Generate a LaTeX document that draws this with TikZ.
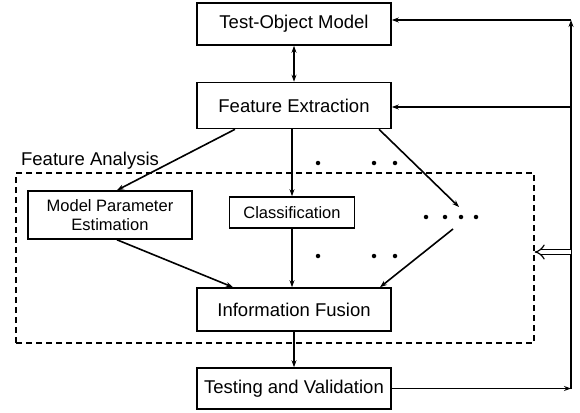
\documentclass[tikz,border=0pt]{standalone}
\usepackage{fontspec}
\setmainfont{Liberation Sans}
\usetikzlibrary{arrows.meta, positioning}

\begin{document}
\begin{tikzpicture}[x=1pt, y=-1pt, line width=1.6pt,
    >={Stealth[length=7pt, width=5pt]},
    bigbox/.style={draw, inner sep=0pt, font=\fontsize{18.5}{22}\selectfont},
    smallbox/.style={draw, inner sep=0pt, align=center, font=\fontsize{16.5}{19}\selectfont},
    dot/.style={circle, fill, inner sep=0pt, minimum size=4.5pt}]
    \useasboundingbox (0,0) rectangle (580,412);

    % Nodes
    \node[bigbox, minimum width=194, minimum height=42] (tom) at (294, 24) {Test-Object Model};
    \node[bigbox, minimum width=194, minimum height=46] (fe) at (294, 105.5) {Feature Extraction};
    \node[bigbox, minimum width=194, minimum height=43] (if) at (294, 309.5) {Information Fusion};
    \node[bigbox, minimum width=194, minimum height=41] (tv) at (294, 388.5) {Testing and Validation};

    % Feature analysis block
    \node[draw, line width=1.3pt, dash pattern=on 6pt off 4pt,
          minimum width=518, minimum height=170] (fa) at (275, 258) {};
    \node[anchor=base west, font=\fontsize{18.5}{22}\selectfont] (falabel) at (17, 165) {Feature Analysis};
    \node[smallbox, minimum width=164, minimum height=48] (mpe) at (110, 215) {Model Parameter\\Estimation};
    \node[smallbox, minimum width=125, minimum height=31] (cls) at (292, 212.5) {Classification};

    % Dots
    \foreach \x in {318, 374, 395} {
        \node[dot] at (\x, 163) {};
        \node[dot] at (\x, 256) {};
    }
    \foreach \x in {426, 445, 461, 476}
        \node[dot] at (\x, 217) {};
    \coordinate (dotsin) at (459, 207);
    \coordinate (dotsout) at (453, 229);

    % Feedback bus
    \coordinate (busbot) at (571, 388.5);
    \coordinate (bustop) at (571, 20);
    \coordinate (busfe) at (571, 107);
    \coordinate (busfa) at (571, 252);

    % Connections
    \draw[<->] (tom) -- (fe);
    \draw[->] ([xshift=-59pt]fe.south) -- ([xshift=7pt]mpe.north);
    \draw[->] (fe.south -| cls) -- (cls);
    \draw[->] ([xshift=85pt]fe.south) -- (dotsin);

    \draw[->] ([xshift=7pt]mpe.south) -- ([xshift=-61pt]if.north);
    \draw[->] (cls) -- (cls |- if.north);
    \draw[->] (dotsout) -- ([xshift=86pt]if.north);

    \draw[->] (if) -- (tv);

    \draw[->] (tv.east) -- (busbot);
    \draw[->] (busbot) -- (bustop);
    \draw[->] (bustop) -- (bustop -| tom.east);
    \draw[->] (busfe) -- (busfe -| fe.east);
    \draw[double, double distance=4pt, line width=1.2pt, -{Implies}] (busfa) -- (busfa -| fa.east);

\end{tikzpicture}
\end{document}
